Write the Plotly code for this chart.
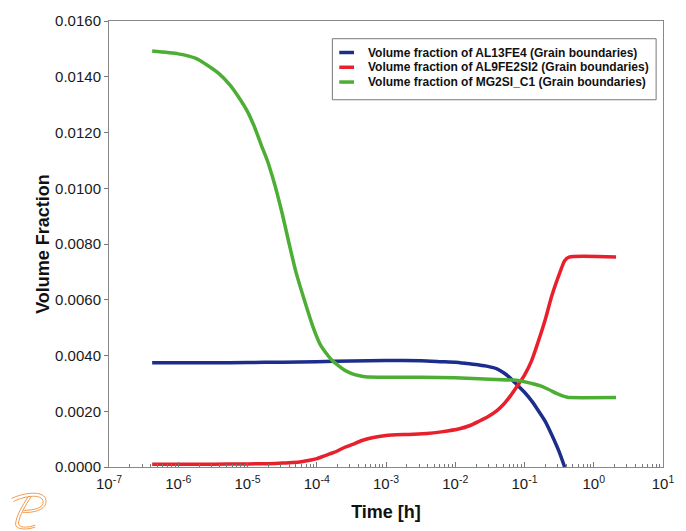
import plotly.graph_objects as go

# Time [h] and volume fraction of each phase
t_al13fe4 = [4.2e-7, 3.2e-6, 1.0e-5, 3.2e-5, 1.0e-4, 3.2e-4, 1.0e-3, 3.2e-3, 6.3e-3,
             1.0e-2, 1.5e-2, 2.2e-2, 2.95e-2, 4.0e-2, 5.0e-2, 6.3e-2, 7.6e-2, 0.1,
             0.126, 0.151, 0.2, 0.251, 0.316, 0.38]
vf_al13fe4 = [0.00374, 0.00374, 0.00375, 0.00376, 0.00378, 0.00380, 0.00382, 0.00381, 0.00378,
              0.00376, 0.00371, 0.00366, 0.00361, 0.00352, 0.00338, 0.00318, 0.00298, 0.00268,
              0.00238, 0.00210, 0.00163, 0.00112, 0.00055, 0.0]

t_al9fe2si2 = [4.2e-7, 3.2e-6, 1.0e-5, 2.0e-5, 3.2e-5, 4.5e-5, 6.0e-5, 7.9e-5, 1.0e-4,
               1.26e-4, 1.8e-4, 2.5e-4, 3.2e-4, 4.5e-4, 6.3e-4, 1.0e-3, 2.0e-3, 3.9e-3,
               6.3e-3, 1.15e-2, 1.6e-2, 2.2e-2, 2.95e-2, 4.0e-2, 5.0e-2, 6.3e-2, 7.6e-2,
               0.1, 0.126, 0.158, 0.2, 0.245, 0.316, 0.38, 0.44, 2.1]
vf_al9fe2si2 = [0.00010, 0.00010, 0.00011, 0.00012, 0.00014, 0.00016, 0.00019, 0.00024, 0.00030,
                0.00039, 0.00053, 0.00070, 0.00080, 0.00095, 0.00105, 0.00113, 0.00117, 0.00120,
                0.00126, 0.00137, 0.00148, 0.00164, 0.00180, 0.00202, 0.00225, 0.00256, 0.00285,
                0.00330, 0.00380, 0.00450, 0.00530, 0.00610, 0.00690, 0.00740, 0.00753, 0.00753]

t_mg2si = [4.2e-7, 1.0e-6, 1.8e-6, 2.5e-6, 3.8e-6, 5.6e-6, 7.3e-6, 1.0e-5, 1.26e-5,
           1.58e-5, 1.95e-5, 2.3e-5, 2.7e-5, 3.2e-5, 4.0e-5, 5.0e-5, 6.6e-5,
           8.9e-5, 1.12e-4, 1.45e-4, 1.7e-4, 2.1e-4, 2.5e-4, 3.2e-4, 4.0e-4, 5.0e-4,
           1.0e-3, 3.2e-3, 1.0e-2, 3.2e-2, 7.6e-2, 0.1, 0.126, 0.17, 0.224, 0.29,
           0.355, 0.417, 0.44, 2.1]
vf_mg2si = [0.01492, 0.01482, 0.01466, 0.01445, 0.01413, 0.01370, 0.01330, 0.01275, 0.01220,
            0.01155, 0.01097, 0.01040, 0.00978, 0.00905, 0.00800, 0.00700, 0.00600,
            0.00500, 0.00440, 0.00400, 0.00380, 0.00362, 0.00348, 0.00335, 0.00328, 0.00324,
            0.00322, 0.00322, 0.00320, 0.00315, 0.00311, 0.00306, 0.00300, 0.00291, 0.00278,
            0.00264, 0.00255, 0.00250, 0.00249, 0.00249]

series_names = [
    "Volume fraction of AL13FE4 (Grain boundaries)",
    "Volume fraction of AL9FE2SI2 (Grain boundaries)",
    "Volume fraction of MG2SI_C1 (Grain boundaries)",
]
series_data = [(t_al13fe4, vf_al13fe4), (t_al9fe2si2, vf_al9fe2si2), (t_mg2si, vf_mg2si)]
series_colors = ["#1c2d8c", "#e8202c", "#4cae34"]

x_decades = list(range(-7, 2))

FONT = "Liberation Sans, Arial, sans-serif"

# figure / plot-area geometry in pixels
W, H = 686, 531
ML, MR, MT, MB = 109, 14, 14, 64
PW, PH = W - ML - MR, H - MT - MB


def px(x, y):
    """Pixel position -> paper coordinates."""
    return (x - ML) / PW, (H - MB - y) / PH


fig = go.Figure()
for name, (t, v), color in zip(series_names, series_data, series_colors):
    fig.add_trace(go.Scatter(
        x=t, y=v, name=name, mode="lines", showlegend=False,
        line=dict(color=color, width=3.5, shape="spline", smoothing=0.6),
    ))

shapes = []
annotations = []

# legend box drawn by hand so the rows can sit close together
lx0, ly0 = px(336, 32)
lx1, ly1 = px(665, 94)
shapes.append(dict(type="rect", xref="paper", yref="paper",
                   x0=lx0, y0=ly1, x1=lx1, y1=ly0,
                   line=dict(color="#777777", width=1), fillcolor="white", layer="above"))
row_y = [46, 61, 76]
for name, color, ry in zip(series_names, series_colors, row_y):
    sx0, sy = px(343, ry)
    sx1, _ = px(358, ry)
    shapes.append(dict(type="line", xref="paper", yref="paper",
                       x0=sx0, x1=sx1, y0=sy, y1=sy,
                       line=dict(color=color, width=3.5), layer="above"))
    tx, ty = px(370, ry)
    annotations.append(dict(xref="paper", yref="paper", x=tx, y=ty,
                            xanchor="left", yanchor="middle", showarrow=False,
                            text=name,
                            font=dict(family=FONT, size=12, color="#111111", weight="bold")))


def path(cmds):
    out = []
    for cmd, pts in cmds:
        out.append(cmd + " " + " ".join("%.4f,%.4f" % px(x, y) for x, y in pts))
    return " ".join(out)


# small orange logo in the lower-left corner
logo_color = "#f39a4c"
logo_paths = [
    [("M", [(10, 499)]), ("C", [(22, 493), (44, 490), (45, 501)]),
     ("C", [(46, 510), (33, 514), (21, 513)])],
    [("M", [(12, 502)]), ("C", [(24, 496), (41, 494), (42, 502)]),
     ("C", [(43, 509), (32, 511), (22, 511)])],
    [("M", [(27, 497)]), ("C", [(21, 506), (15, 516), (14, 525)]),
     ("C", [(14, 531), (26, 531), (34, 528)])],
    [("M", [(30, 497)]), ("C", [(24, 506), (18, 516), (17, 524)]),
     ("C", [(17, 529), (26, 529), (34, 526)])],
]
for p in logo_paths:
    shapes.append(dict(type="path", xref="paper", yref="paper", path=path(p),
                       line=dict(color=logo_color, width=1)))

fig.update_layout(
    width=W, height=H,
    margin=dict(l=ML, r=MR, t=MT, b=MB),
    paper_bgcolor="white", plot_bgcolor="white",
    font=dict(family=FONT, size=15, color="#1a1a1a"),
    showlegend=False,
    xaxis=dict(
        type="log", range=[-7, 1],
        tickvals=[10 ** d for d in x_decades],
        ticktext=["10<sup>%d</sup>" % d for d in x_decades],
        ticks="inside", ticklen=5, tickcolor="#777777",
        minor=dict(ticks="inside", ticklen=3, tickcolor="#777777", dtick="D1"),
        showline=True, linecolor="#888888", linewidth=1, mirror=True,
        showgrid=False, zeroline=False,
        ticklabelstandoff=3,
        tickfont=dict(family=FONT, size=15, color="#1a1a1a"),
        title=dict(text="Time [h]", standoff=14,
                   font=dict(family=FONT, size=18, color="#111111", weight="bold")),
    ),
    yaxis=dict(
        range=[0, 0.016], dtick=0.002, tickformat=".4f",
        ticks="outside", ticklen=4, tickcolor="#777777",
        showline=True, linecolor="#888888", linewidth=1, mirror=True,
        showgrid=False, zeroline=False,
        tickfont=dict(family=FONT, size=15, color="#1a1a1a"),
        title=dict(text="Volume Fraction", standoff=0,
                   font=dict(family=FONT, size=18, color="#111111", weight="bold")),
    ),
    shapes=shapes,
    annotations=annotations,
)

fig.write_html("out.html")
